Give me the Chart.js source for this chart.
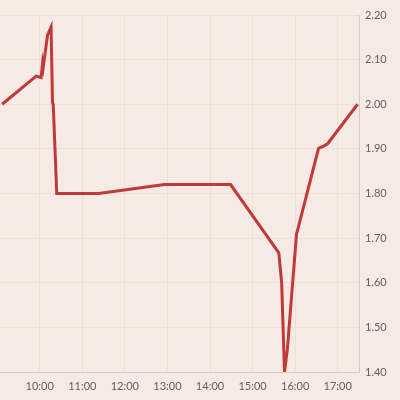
<!DOCTYPE html>
<html><head><meta charset="utf-8">
<script src="https://cdn.jsdelivr.net/npm/chart.js@4"></script>
<style>html,body{margin:0;padding:0;background:#f6eae4;}#wrap{width:400px;height:400px;}</style>
</head><body><div id="wrap"><canvas id="c" width="400" height="400"></canvas></div>
<script>
const times = ["9:07","9:55","10:02","10:04","10:05","10:11","10:16","10:18","10:19","10:24","11:23","12:56","14:29","15:37","15:41","15:45","15:49","16:02","16:03","16:33","16:40","16:46","17:28"];
const values = [2.00,2.063,2.06,2.093,2.083,2.155,2.173,2.003,2.00,1.80,1.80,1.82,1.82,1.667,1.60,1.40,1.45,1.71,1.715,1.901,1.906,1.912,2.00];
const hourTicks = [600,660,720,780,840,900,960,1020];
const hourLabels = ["10:00","11:00","12:00","13:00","14:00","15:00","16:00","17:00"];
const yTicks = [1.40,1.50,1.60,1.70,1.80,1.90,2.00,2.10,2.20];

function toMin(s){const p=s.split(':');return (+p[0])*60+(+p[1]);}
const pts = times.map((t,i)=>({x:toMin(t),y:values[i]}));

const bg = {id:'bg',beforeDraw(c){const x=c.ctx;x.save();x.fillStyle='#f6eae4';x.fillRect(0,0,c.width,c.height);x.restore();}};

new Chart(document.getElementById('c'),{
  type:'line',
  data:{datasets:[{data:pts,borderColor:'#c1393b',borderWidth:3,pointRadius:0,tension:0,fill:false}]},
  options:{
    responsive:false,animation:false,
    layout:{padding:{top:15,left:0,right:0,bottom:0}},
    plugins:{legend:{display:false},tooltip:{enabled:false}},
    scales:{
      x:{type:'linear',min:544,max:1050,
        afterBuildTicks(s){s.ticks=hourTicks.map(v=>({value:v}));},
        afterFit(s){s.height=28;},
        grid:{color:'#efe0d6',drawTicks:false},
        border:{color:'#d6ccc6',width:1},
        ticks:{padding:8,color:'#66605c',font:{family:'Lato',size:11},maxRotation:0,
          callback(v){const i=hourTicks.indexOf(v);return i>=0?hourLabels[i]:'';}}
      },
      y:{position:'right',min:1.40,max:2.20,
        afterBuildTicks(s){s.ticks=yTicks.map(v=>({value:v}));},
        afterFit(s){s.width=41;},
        grid:{color:'#efe0d6',drawTicks:false},
        border:{color:'#d6ccc6',width:1},
        ticks:{padding:6,color:'#66605c',font:{family:'Lato',size:11},callback(v){return v.toFixed(2);}}
      }
    }
  },
  plugins:[bg]
});
</script></body></html>
